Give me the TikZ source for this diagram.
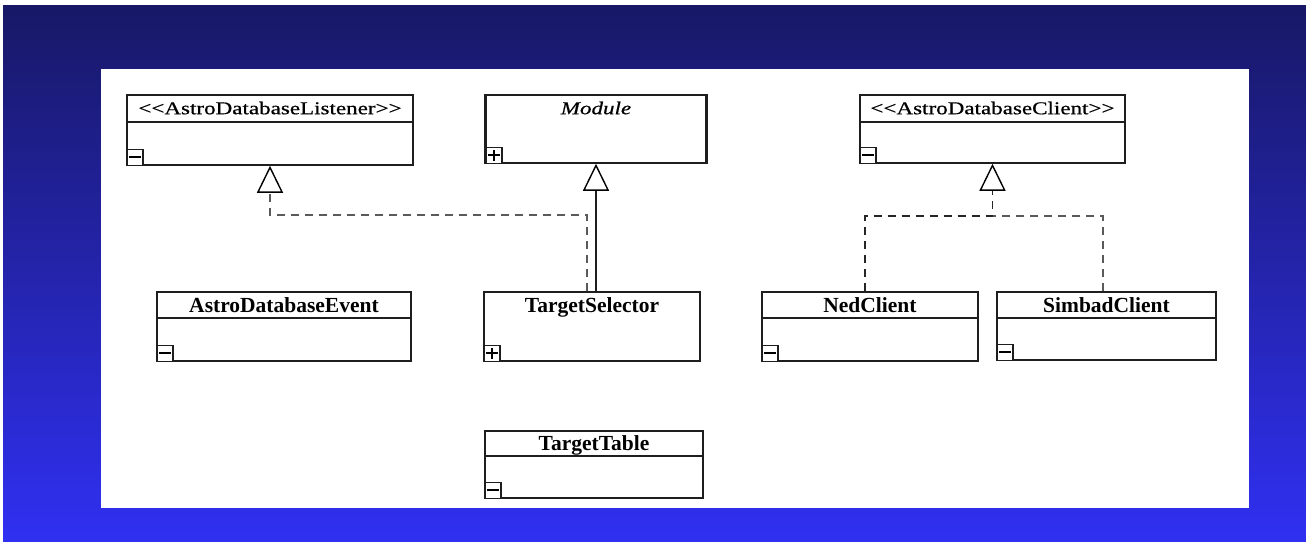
\documentclass[tikz,border=0pt]{standalone}
\usepackage{fontspec}
\setmainfont{Liberation Serif}
\newfontfamily\headfont[FakeStretch=1.28, FakeBold=0.6]{Liberation Serif}
\usetikzlibrary{arrows.meta}

\definecolor{bgtop}{RGB}{24,24,102}
\definecolor{bgbottom}{RGB}{48,48,242}
\definecolor{umlline}{RGB}{30,30,30}
\definecolor{dashline}{RGB}{90,90,90}

\tikzset{
  umlbox/.style={draw=umlline, line width=1.6pt, fill=white, inner sep=0pt},
  stereotext/.style={font=\headfont\fontsize{18}{20}\selectfont, inner sep=0pt, anchor=base},
  classtext/.style={font=\bfseries\fontsize{21.5}{24}\selectfont, inner sep=0pt, anchor=base},
  divider/.style={draw=umlline, line width=1.6pt},
  iconbox/.style={draw=umlline, line width=1.3pt, minimum size=16pt, inner sep=0pt, fill=white},
  iconbar/.style={draw=black, line width=2.2pt},
  realize/.style={draw=dashline, line width=1.5pt, dash pattern=on 8pt off 6pt},
  inherit/.style={draw=umlline, line width=1.6pt},
  hollow/.style={-{Triangle[length=27pt, width=26pt, fill=white, color=black, line width=1.4pt]}}
}

% minus / plus marker in the lower left corner of a class box
\newcommand{\minusmark}[1]{%
  \node[iconbox, anchor=south west] (#1-ic) at (#1.south west) {};
  \draw[iconbar] ([xshift=3pt]#1-ic.west) -- ([xshift=-3pt]#1-ic.east);
}
\newcommand{\plusmark}[1]{%
  \node[iconbox, anchor=south west] (#1-ic) at (#1.south west) {};
  \draw[iconbar] ([xshift=3pt]#1-ic.west) -- ([xshift=-3pt]#1-ic.east);
  \draw[iconbar] ([yshift=3pt]#1-ic.south) -- ([yshift=-3pt]#1-ic.north);
}

\begin{document}
\begin{tikzpicture}[x=1pt, y=-1pt]
  \useasboundingbox (0,0) rectangle (1306,541);

  % backdrop and white panel
  \fill[white] (0,0) rectangle (1306,541);
  \shade[top color=bgtop, bottom color=bgbottom] (3,5) rectangle (1306,541);
  \fill[white] (101,69) rectangle (1249,508);

  % top row
  \node[umlbox, minimum width=286pt, minimum height=70pt] (L) at (270,130) {};
  \node[stereotext] (L-t) at ([yshift=-20pt]L.north) {<<AstroDatabaseListener>>};
  \draw[divider] ([yshift=-28pt]L.north west) -- ([yshift=-28pt]L.north east);
  \minusmark{L}

  \node[umlbox, minimum width=220pt, minimum height=68pt] (M) at (596,129) {};
  \draw[umlline, line width=2.6pt] (M.north west) -- (M.south west) (M.north east) -- (M.south east);
  \node[stereotext, font=\headfont\itshape\fontsize{18}{20}\selectfont] (M-t) at ([yshift=-20pt]M.north) {Module};
  \plusmark{M}

  \node[umlbox, minimum width=265pt, minimum height=68pt] (C) at (992.5,129) {};
  \node[stereotext] (C-t) at ([yshift=-20pt]C.north) {<<AstroDatabaseClient>>};
  \draw[divider] ([yshift=-28pt]C.north west) -- ([yshift=-28pt]C.north east);
  \minusmark{C}

  % middle row
  \node[umlbox, minimum width=254pt, minimum height=69pt] (E) at (284,326.5) {};
  \node[classtext] (E-t) at ([yshift=-21pt]E.north) {AstroDatabaseEvent};
  \draw[divider] ([yshift=-27pt]E.north west) -- ([yshift=-27pt]E.north east);
  \minusmark{E}

  \node[umlbox, minimum width=216pt, minimum height=69pt] (TS) at (592,326.5) {};
  \node[classtext] (TS-t) at ([yshift=-21pt]TS.north) {TargetSelector};
  \plusmark{TS}

  \node[umlbox, minimum width=216pt, minimum height=69pt] (NC) at (870,326.5) {};
  \node[classtext] (NC-t) at ([yshift=-21pt]NC.north) {NedClient};
  \draw[divider] ([yshift=-27pt]NC.north west) -- ([yshift=-27pt]NC.north east);
  \minusmark{NC}

  \node[umlbox, minimum width=219pt, minimum height=68pt] (SC) at (1106.5,326) {};
  \node[classtext] (SC-t) at ([yshift=-21pt]SC.north) {SimbadClient};
  \draw[divider] ([yshift=-27pt]SC.north west) -- ([yshift=-27pt]SC.north east);
  \minusmark{SC}

  % bottom row
  \node[umlbox, minimum width=218pt, minimum height=67pt] (TT) at (594,464.5) {};
  \node[classtext] (TT-t) at ([yshift=-20pt]TT.north) {TargetTable};
  \draw[divider] ([yshift=-26pt]TT.north west) -- ([yshift=-26pt]TT.north east);
  \minusmark{TT}

  % generalisation and realisation connectors
  \coordinate (Lj) at ([yshift=-49pt]L.south);
  \coordinate (Cj) at ([yshift=-52pt]C.south);

  \draw[realize, hollow] ([xshift=-5pt]TS.north) |- (Lj) -- (L.south);
  \draw[inherit, hollow] (TS.north -| M.south) -- (M.south);

  \draw[realize] ([xshift=-3.5pt]SC.north) |- (Cj);
  \draw[realize, draw=black!85, hollow] ([xshift=-5pt]NC.north) |- (Cj) -- (C.south);
\end{tikzpicture}
\end{document}
